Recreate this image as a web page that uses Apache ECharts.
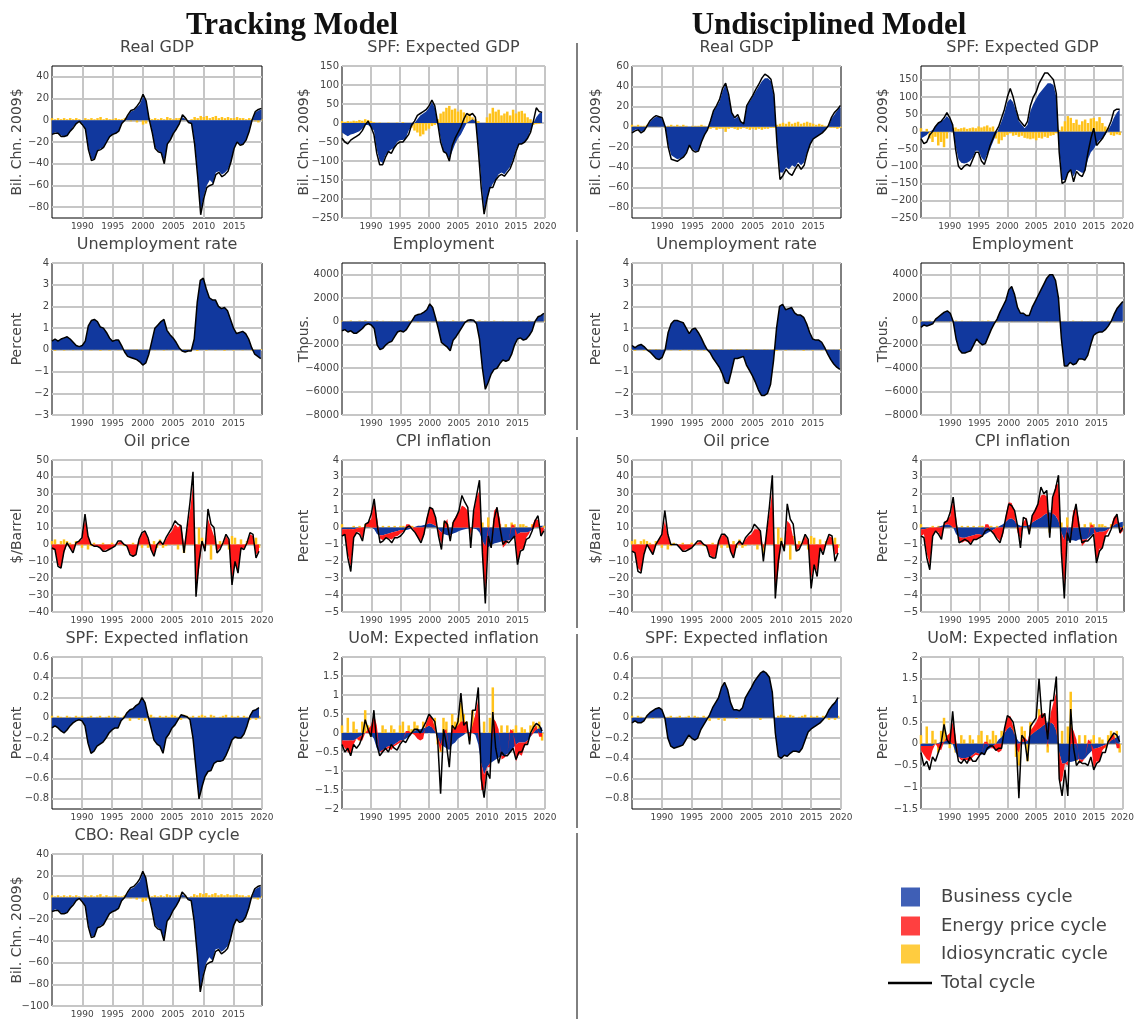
<!DOCTYPE html>
<html><head><meta charset="utf-8">
<script src="https://cdn.jsdelivr.net/npm/echarts@6/dist/echarts.min.js"></script>
<style>html,body{margin:0;padding:0;background:#fff}#c{width:1137px;height:1019px}</style>
</head><body><div id="c"></div><script>
// time index: semi-annual, 1985.0 .. 2019.5
const T = [1985,1985.5,1986,1986.5,1987,1987.5,1988,1988.5,1989,1989.5,
1990,1990.5,1991,1991.5,1992,1992.5,1993,1993.5,1994,1994.5,
1995,1995.5,1996,1996.5,1997,1997.5,1998,1998.5,1999,1999.5,
2000,2000.5,2001,2001.5,2002,2002.5,2003,2003.5,2004,2004.5,
2005,2005.5,2006,2006.5,2007,2007.5,2008,2008.5,2009,2009.5,
2010,2010.5,2011,2011.5,2012,2012.5,2013,2013.5,2014,2014.5,
2015,2015.5,2016,2016.5,2017,2017.5,2018,2018.5,2019,2019.5];

// ---- Tracking model: Real GDP (also CBO) ----
const gdpT_biz = [-13,-11,-12,-14,-15,-14,-10,-6,-3,-1,
-3,-8,-25,-36,-36,-28,-26,-25,-20,-15,
-13,-12,-10,-3,0,4,8,9,12,15,
22,18,2,-10,-25,-28,-30,-38,-22,-18,
-12,-8,-3,3,1,-2,-3,-20,-50,-85,
-70,-60,-55,-58,-48,-47,-50,-48,-45,-38,
-26,-20,-22,-22,-18,-10,0,7,9,10];
const gdpT_idio = [2,1,2,1,2,1,2,1,2,1,
-1,2,1,2,1,2,3,1,2,1,
1,2,1,1,2,1,-1,2,-2,1,
-4,-3,2,1,2,1,2,1,3,2,
1,2,2,1,2,-1,1,3,2,4,
3,4,2,3,4,2,3,2,3,2,
2,3,2,2,1,2,1,-1,-2,1];
const gdpT_tot = [-13,-12,-12,-15,-15,-14,-10,-7,-3,-1,
-4,-8,-27,-37,-36,-28,-27,-25,-20,-15,
-13,-12,-10,-3,0,5,9,10,13,17,
24,18,1,-11,-26,-29,-30,-40,-22,-18,
-12,-8,-3,5,2,-2,-3,-22,-52,-87,
-72,-62,-60,-59,-50,-48,-52,-50,-47,-38,
-26,-20,-23,-22,-18,-10,1,8,10,11];

// ---- Tracking: SPF expected GDP ----
const spfT_biz = [-25,-30,-35,-30,-28,-25,-22,-15,-5,-5,
-12,-20,-70,-100,-105,-85,-75,-70,-65,-50,
-45,-45,-40,-20,-10,0,10,20,25,30,
40,55,40,0,-40,-75,-80,-95,-75,-55,
-40,-30,-15,0,5,10,5,-60,-150,-230,
-200,-175,-160,-150,-135,-130,-135,-125,-115,-95,
-70,-55,-55,-50,-40,-20,0,15,25,28];
const spfT_idio = [5,3,5,4,6,5,8,6,10,8,
5,2,0,1,0,-2,1,0,-2,1,
-3,2,-5,-8,-12,-20,-25,-35,-30,-20,
-15,-8,-5,10,25,30,40,45,35,38,
30,35,28,20,25,15,10,5,0,0,
15,25,40,30,35,20,25,30,20,35,
25,30,32,25,15,10,-5,-3,-2,0];
const spfT_tot = [-40,-50,-55,-45,-40,-35,-30,-20,-5,5,
-10,-30,-80,-110,-110,-90,-75,-80,-65,-55,
-50,-50,-40,-30,-5,5,20,25,30,35,
45,60,45,0,-50,-75,-80,-100,-60,-40,
-25,-10,10,25,20,25,15,-70,-170,-240,
-200,-170,-170,-150,-140,-135,-140,-130,-120,-100,
-75,-55,-55,-50,-40,-25,5,40,30,28];

// ---- Undisciplined: Real GDP ----
const gdpU_biz = [-5,-3,-3,-5,-4,0,5,8,10,10,
8,0,-18,-28,-30,-32,-31,-30,-25,-18,
-22,-24,-24,-15,-8,-3,5,15,20,25,
35,42,30,15,8,10,5,3,20,25,
30,35,40,45,48,48,45,30,-15,-45,
-45,-40,-42,-38,-40,-35,-38,-35,-25,-18,
-12,-10,-8,-6,-3,0,8,12,16,20];
const gdpU_idio = [2,1,2,1,1,2,1,1,1,0,
1,-1,1,2,1,2,1,2,1,0,
1,1,1,2,1,-1,-2,-1,-3,-2,
-2,-5,-2,-1,-2,-3,-2,-1,-2,-3,
-2,-3,-2,-3,-2,-2,-1,-1,2,3,
4,3,5,3,4,5,3,4,5,4,
3,2,3,2,1,1,-1,-1,-2,-1];
const gdpU_tot = [-6,-4,-3,-6,-4,1,6,9,11,10,
9,0,-20,-32,-33,-34,-32,-30,-26,-18,
-23,-25,-24,-15,-8,-3,6,16,21,27,
38,43,32,14,9,12,5,3,21,26,
31,37,42,48,52,50,47,32,-17,-52,
-48,-42,-46,-48,-42,-37,-42,-38,-26,-17,
-12,-10,-8,-6,-3,1,9,14,17,21];

// ---- Undisciplined: SPF expected GDP ----
const spfU_biz = [-20,-15,-10,0,5,15,25,30,35,45,
35,20,-40,-80,-90,-92,-90,-85,-75,-55,
-55,-75,-85,-65,-50,-30,-10,10,30,55,
85,95,85,60,30,20,10,20,60,80,
95,110,120,130,140,140,135,100,-50,-140,
-140,-120,-110,-130,-110,-115,-120,-115,-80,-60,
-50,-35,-25,-20,-10,5,20,40,55,65];
const spfU_idio = [10,-10,8,-20,-30,-15,-40,-30,-45,-20,
5,10,12,8,10,12,8,10,12,10,
15,12,15,18,12,15,-20,-35,-25,-15,
-10,-5,-12,-10,-15,-12,-18,-20,-22,-20,
-25,-18,-20,-15,-18,-12,-10,-5,5,15,
30,45,40,25,35,20,30,35,25,38,
40,30,42,25,15,10,-10,-12,-8,-10];
const spfU_tot = [-20,-35,-30,-10,0,15,25,30,40,55,
40,20,-50,-100,-110,-100,-95,-100,-80,-60,
-60,-85,-95,-70,-40,-20,0,15,40,65,
100,125,100,65,35,25,15,30,75,100,
115,140,155,170,170,160,150,110,-60,-150,
-145,-120,-110,-145,-115,-125,-130,-110,-60,-20,
10,-40,-30,-20,-5,10,30,60,65,65];

// ---- Unemployment rate ----
const unT_biz = [0.4,0.5,0.4,0.5,0.55,0.6,0.5,0.35,0.2,0.15,
0.2,0.4,1.1,1.35,1.4,1.3,1.05,1.0,0.8,0.55,
0.4,0.45,0.45,0.2,-0.1,-0.3,-0.35,-0.4,-0.45,-0.55,
-0.7,-0.6,-0.2,0.4,1.0,1.15,1.3,1.4,0.9,0.7,
0.55,0.35,0.1,-0.05,-0.1,-0.05,-0.05,0.5,2.2,3.2,
3.3,2.8,2.4,2.3,2.3,2.0,1.9,1.95,1.8,1.4,
1.0,0.75,0.8,0.85,0.75,0.5,0.1,-0.2,-0.3,-0.4];
const unU_biz = [0.2,0.1,0.2,0.25,0.15,0.0,-0.1,-0.25,-0.4,-0.45,
-0.35,0.0,0.8,1.2,1.35,1.35,1.3,1.25,1.0,0.75,
0.95,1.0,0.8,0.55,0.25,0.0,-0.15,-0.4,-0.6,-0.8,
-1.1,-1.5,-1.55,-1.0,-0.4,-0.4,-0.35,-0.3,-0.7,-0.95,
-1.2,-1.5,-1.85,-2.1,-2.1,-2.0,-1.6,-0.5,1.0,2.0,
2.1,1.85,1.9,1.95,1.7,1.6,1.6,1.5,1.2,0.8,
0.5,0.45,0.45,0.35,0.1,-0.2,-0.45,-0.65,-0.8,-0.9];
const unIdio = [0.03,-0.04,0.02,0.04,-0.03,0.02,0.03,-0.02,0.04,0.02,
-0.03,0.02,0.04,-0.02,0.03,0.02,-0.04,0.03,0.02,-0.03,
0.02,0.03,-0.02,0.04,-0.03,0.02,-0.04,0.02,0.03,-0.02,
0.03,-0.03,0.02,0.04,-0.02,0.03,0.02,-0.03,0.04,0.02,
-0.02,0.03,0.02,-0.04,0.03,0.02,-0.03,0.04,-0.05,0.03,
0.02,-0.03,0.04,0.02,-0.02,0.03,0.02,-0.04,0.03,0.02,
-0.03,0.02,0.03,-0.02,0.04,0.02,-0.03,0.02,-0.02,0.03];

// ---- Employment ----
const empT_biz = [-800,-700,-900,-800,-1000,-1000,-800,-600,-300,-200,
-300,-600,-2000,-2400,-2300,-2000,-1800,-1700,-1300,-900,
-800,-900,-700,-300,100,500,600,650,800,1000,
1500,1200,300,-700,-1800,-2000,-2200,-2500,-1600,-1300,
-900,-500,-100,100,150,100,-200,-1500,-4000,-5800,
-5200,-4500,-4100,-4000,-3600,-3300,-3400,-3300,-2800,-2000,
-1500,-1400,-1600,-1500,-1200,-800,0,400,500,700];
const empU_biz = [-500,-300,-400,-300,-200,200,400,600,800,900,
700,0,-1500,-2400,-2700,-2700,-2600,-2500,-2000,-1500,
-1800,-2000,-1900,-1300,-700,-200,200,800,1300,1800,
2700,3000,2300,1200,700,700,500,500,1200,1700,
2200,2700,3200,3700,4000,4000,3500,2000,-1500,-3800,
-3800,-3500,-3700,-3600,-3200,-3200,-3300,-2900,-2000,-1200,
-1000,-900,-900,-700,-400,0,600,1100,1400,1700];
const empIdio = [60,-40,50,80,-30,40,70,-50,90,40,
-60,50,80,-40,60,30,-70,50,40,-60,
40,60,-40,80,-50,40,-80,60,50,-40,
60,-50,40,70,-40,60,30,-50,80,40,
-40,60,30,-70,50,40,-60,80,-90,60,
40,-60,70,40,-40,60,30,-70,50,40,
-50,40,60,-40,70,40,-60,40,-40,60];

// ---- Oil price ----
const oilT_nrg = [-3,-3,-12,-14,-5,0,-2,-4,0,2,
3,15,5,0,-1,-1,-2,-4,-3,-3,
-2,-1,1,2,0,-1,-5,-7,-6,2,
6,8,3,-3,-6,0,2,0,3,6,
8,12,10,12,0,8,20,35,-28,-15,
0,-3,15,10,5,-4,-2,0,5,2,
-20,-12,-15,-3,-2,0,6,5,-6,-4];
const oilT_tot = [-2,-3,-13,-14,-4,1,-2,-5,1,2,
4,18,5,0,-1,-1,-2,-4,-4,-3,
-2,-1,2,2,0,-1,-6,-7,-6,3,
7,8,4,-3,-7,0,2,0,4,7,
10,14,12,11,-5,10,25,43,-31,-10,
2,-4,21,12,10,-5,-3,1,6,3,
-24,-10,-17,-2,-3,1,7,6,-8,-4];
const oilIdio = [2,3,-2,2,3,2,1,-1,2,1,
-2,3,-3,-1,1,0,-1,1,0,-1,
1,0,1,0,-1,0,-1,1,0,1,
-2,1,-2,-1,2,-2,3,-2,-1,2,
3,2,-3,2,-5,3,5,8,-5,10,
4,-2,8,-9,5,-3,2,1,4,-3,
5,4,-4,3,-2,2,3,2,4,-2];
const oilU_nrg = [-4,-5,-14,-16,-6,0,-3,-6,0,3,
5,14,5,0,0,0,-2,-4,-3,-3,
-2,0,1,2,0,-1,-6,-8,-7,2,
5,6,3,-4,-7,0,2,0,3,5,
6,9,9,8,-3,6,18,32,-28,-15,
0,-3,14,12,4,-4,-2,0,5,2,
-20,-12,-16,-3,-4,0,5,4,-6,-5];
const oilU_tot = [-4,-5,-16,-17,-6,0,-3,-6,0,3,
6,20,6,0,0,0,-2,-4,-4,-3,
-2,0,2,2,0,-1,-7,-8,-8,2,
6,6,4,-4,-8,0,2,0,4,6,
8,12,10,8,-10,6,22,41,-32,-10,
2,-4,24,15,12,-4,-3,1,6,3,
-26,-12,-19,-2,-6,1,6,5,-10,-5];

// ---- CPI inflation ----
const cpiT_biz = [-0.1,-0.1,-0.1,-0.1,-0.1,-0.05,0,0,0.05,0.05,
0,-0.1,-0.4,-0.45,-0.45,-0.4,-0.35,-0.3,-0.25,-0.2,
-0.15,-0.15,-0.15,-0.1,0,0.05,0.1,0.1,0.15,0.2,
0.25,0.2,0.1,-0.1,-0.3,-0.4,-0.45,-0.45,-0.35,-0.3,
-0.2,-0.15,-0.1,-0.05,-0.05,-0.05,-0.1,-0.3,-0.8,-1.1,
-1.15,-1.05,-0.95,-0.9,-0.85,-0.8,-0.8,-0.75,-0.7,-0.6,
-0.4,-0.3,-0.3,-0.3,-0.25,-0.15,0,0.05,0.1,0.1];
const cpiT_nrg = [-0.4,-0.3,-1.5,-2.2,-0.5,-0.2,-0.3,-0.7,0.1,0.3,
0.5,1.6,0.6,-0.2,-0.3,-0.2,-0.3,-0.4,-0.3,-0.3,
-0.2,-0.1,0.2,0.2,0,-0.3,-0.6,-0.8,-0.5,0.4,
1.0,0.9,0.5,-0.3,-0.7,0.2,0.5,-0.2,0.4,0.7,
0.9,1.3,1.2,1.0,-0.5,0.8,1.8,2.2,-1.0,-3.0,
0.2,-0.1,1.0,1.2,0.5,-0.4,-0.2,0,0.2,0.1,
-1.8,-1.0,-1.0,-0.3,-0.1,0.1,0.5,0.4,-0.4,-0.2];
const cpiT_idio = [0.2,-0.1,-0.2,-0.3,0.1,-0.1,0.1,-0.1,0.2,0.1,
0.3,0.3,0.1,-0.2,0.1,-0.1,0.1,-0.1,0.1,-0.1,
0.1,0.1,-0.1,0.1,0.1,-0.1,0.1,-0.1,0.1,0.1,
0.2,0.1,0.1,-0.1,-0.2,0.3,0.2,-0.2,0.3,0.1,
0.3,0.4,0.3,0.2,-0.3,0.3,0.3,0.5,0.3,-0.6,
0.6,-0.2,0.4,0.8,0.2,-0.2,0.2,-0.1,0.3,0.2,
-0.2,0.2,0.2,0.1,-0.1,0.2,0.2,0.3,-0.1,0.1];
const cpiT_tot = [-0.5,-0.4,-1.8,-2.6,-0.6,-0.3,-0.4,-0.8,0.2,0.3,
0.8,1.7,0.2,-0.9,-0.8,-0.6,-0.7,-0.9,-0.6,-0.6,
-0.5,-0.3,0,0.1,-0.1,-0.3,-0.6,-0.9,-0.4,0.5,
1.2,1.1,0.6,-0.5,-1.3,0.4,0.2,-0.8,0.3,0.6,
1.0,1.9,1.5,1.2,-1.2,1.0,1.9,2.8,-1.5,-4.5,
-0.5,-1.2,0.5,1.2,0,-1.0,-0.8,-0.9,-0.7,-0.5,
-2.2,-1.4,-1.3,-0.7,-0.6,-0.2,0.4,0.7,-0.5,-0.2];
const cpiU_biz = [-0.1,-0.1,-0.05,0,0,0,0.05,0.1,0.15,0.2,
0.15,0,-0.4,-0.55,-0.6,-0.6,-0.55,-0.5,-0.45,-0.4,
-0.4,-0.45,-0.4,-0.3,-0.2,-0.1,0,0.1,0.2,0.35,
0.5,0.55,0.4,0.2,0.1,0.1,0.1,0.15,0.3,0.4,
0.5,0.6,0.75,0.85,0.9,0.85,0.7,0.4,-0.3,-0.75,
-0.8,-0.75,-0.75,-0.8,-0.7,-0.7,-0.7,-0.65,-0.5,-0.35,
-0.3,-0.25,-0.25,-0.2,-0.1,0,0.15,0.25,0.3,0.35];
const cpiU_tot = [-0.5,-0.6,-1.8,-2.5,-0.5,-0.2,-0.4,-0.7,0.3,0.4,
0.9,1.8,0.3,-0.9,-0.8,-0.7,-0.8,-1.0,-0.7,-0.7,
-0.6,-0.5,-0.2,-0.1,-0.2,-0.4,-0.7,-0.9,-0.3,0.6,
1.4,1.3,1.0,0.1,-1.2,0.6,0.5,-0.4,0.7,1.0,
1.4,2.4,2.0,2.2,-0.6,1.8,2.3,3.1,-1.5,-4.2,
-0.3,-0.9,0.6,1.4,0.1,-0.9,-0.8,-0.8,-0.6,-0.4,
-2.1,-1.4,-1.2,-0.5,-0.5,-0.1,0.5,0.8,-0.3,0];

// ---- SPF expected inflation ----
const spfiT_biz = [-0.1,-0.08,-0.1,-0.13,-0.15,-0.12,-0.08,-0.05,-0.03,-0.02,
-0.03,-0.08,-0.25,-0.35,-0.33,-0.28,-0.26,-0.24,-0.2,-0.15,
-0.12,-0.1,-0.1,-0.03,0,0.05,0.08,0.09,0.12,0.14,
0.2,0.15,0.02,-0.1,-0.22,-0.26,-0.28,-0.35,-0.2,-0.16,
-0.1,-0.07,-0.02,0.03,0.02,0.01,-0.02,-0.2,-0.5,-0.8,
-0.68,-0.58,-0.53,-0.52,-0.45,-0.43,-0.43,-0.42,-0.37,-0.3,
-0.22,-0.19,-0.2,-0.2,-0.16,-0.08,0.02,0.07,0.08,0.1];
const spfiU_biz = [-0.05,-0.03,-0.05,-0.05,-0.03,0.02,0.05,0.07,0.09,0.1,
0.08,0,-0.2,-0.28,-0.3,-0.29,-0.28,-0.27,-0.22,-0.17,
-0.2,-0.22,-0.2,-0.12,-0.07,-0.02,0.03,0.1,0.15,0.2,
0.3,0.35,0.28,0.15,0.08,0.08,0.07,0.1,0.2,0.25,
0.3,0.36,0.4,0.44,0.46,0.44,0.4,0.25,-0.15,-0.38,
-0.4,-0.37,-0.38,-0.35,-0.33,-0.33,-0.34,-0.3,-0.22,-0.14,
-0.11,-0.09,-0.07,-0.05,-0.02,0.02,0.08,0.12,0.15,0.2];
const spfiIdio = [0.02,-0.01,0.02,0.01,-0.02,0.02,0.01,-0.01,0.02,0.01,
0.02,-0.01,0.01,0.02,-0.01,0.01,0.02,-0.02,0.01,0.02,
-0.01,0.02,0.01,-0.02,0.02,0.01,-0.03,0.02,0.01,-0.02,
0.01,-0.03,0.02,0.03,0.01,-0.01,0.02,0.01,0.02,0.01,
0.03,0.02,0.01,-0.02,0.03,0.02,0.01,0.02,-0.02,0.02,
0.03,0.02,-0.01,0.03,0.02,-0.02,0.01,0.02,0.03,-0.01,
0.02,0.01,0.02,-0.01,0.02,0.01,-0.02,0.01,-0.02,0.02];

// ---- UoM expected inflation ----
const uomT_biz = [-0.2,-0.2,-0.2,-0.2,-0.2,-0.15,-0.1,-0.05,0,0,
-0.05,-0.15,-0.4,-0.5,-0.45,-0.4,-0.35,-0.35,-0.3,-0.25,
-0.2,-0.2,-0.15,-0.1,0,0.05,0.1,0.1,0.12,0.15,
0.2,0.15,0.05,-0.1,-0.3,-0.35,-0.4,-0.45,-0.3,-0.25,
-0.15,-0.1,-0.05,0.02,0.02,0,-0.05,-0.3,-0.8,-1.1,
-0.9,-0.8,-0.75,-0.7,-0.65,-0.6,-0.6,-0.55,-0.5,-0.4,
-0.3,-0.25,-0.25,-0.25,-0.2,-0.1,0,0.1,0.12,0.15];
const uomT_nrg = [-0.1,-0.2,-0.3,-0.35,-0.1,0,-0.1,-0.15,0,0.1,
0.2,0.5,0.2,0,-0.05,-0.05,-0.05,-0.1,-0.05,-0.05,
-0.05,0,0.05,0.05,0,-0.05,-0.15,-0.2,-0.15,0.1,
0.25,0.25,0.1,-0.1,-0.2,0.05,0.1,0,0.1,0.15,
0.2,0.3,0.3,0.25,-0.1,0.2,0.5,0.9,-0.7,-0.4,
0,-0.1,0.4,0.3,0.1,-0.1,-0.05,0,0.1,0.05,
-0.45,-0.3,-0.35,-0.1,-0.05,0,0.1,0.1,-0.1,-0.1];
const uomT_idio = [0.2,-0.1,0.4,-0.2,0.3,0.1,-0.2,0.3,0.6,0.2,
-0.1,0.3,-0.2,-0.3,0.2,0.1,-0.1,0.2,0.1,-0.2,
0.2,0.3,-0.1,0.2,0.1,0.3,0.2,-0.1,0.3,0.2,
0.4,0.3,0.4,-0.3,-0.5,0.4,0.3,-0.4,0.5,0.3,
0.4,0.8,0.5,0.3,-0.2,0.6,0.4,0.4,-0.4,0.3,
-0.3,0.4,1.2,0.2,-0.4,0.2,-0.3,0.2,-0.2,0.1,
0.2,-0.2,0.15,0.1,-0.1,0.2,0.3,0.2,0.3,-0.2];
const uomT_tot = [-0.3,-0.5,-0.4,-0.6,-0.3,-0.4,-0.3,-0.1,0.35,0.1,
-0.1,0.6,-0.3,-0.6,-0.5,-0.4,-0.5,-0.3,-0.4,-0.45,
-0.3,-0.2,-0.25,-0.1,0,0.1,0.1,0,0.15,0.3,
0.5,0.4,0.3,-0.2,-1.6,0.1,-0.3,-0.9,0.2,0.1,
0.3,1.05,0.2,0.3,-0.3,0.6,0.6,1.2,-1.2,-1.7,
-1.0,-1.2,0.55,-0.4,-0.8,-0.5,-0.6,-0.6,-0.5,-0.4,
-0.7,-0.5,-0.5,-0.3,-0.3,0,0.15,0.25,0.2,0.05];
const uomU_biz = [-0.05,-0.05,-0.05,-0.05,-0.05,0,0.02,0.05,0.05,0.08,
0.05,0,-0.2,-0.3,-0.33,-0.33,-0.32,-0.3,-0.25,-0.2,
-0.22,-0.25,-0.22,-0.15,-0.1,-0.05,0,0.1,0.15,0.25,
0.35,0.4,0.3,0.15,0.05,0.05,0.05,0.07,0.2,0.25,
0.3,0.35,0.4,0.45,0.5,0.5,0.45,0.3,-0.2,-0.45,
-0.45,-0.4,-0.42,-0.4,-0.38,-0.35,-0.37,-0.33,-0.25,-0.18,
-0.12,-0.1,-0.08,-0.05,-0.02,0,0.08,0.12,0.15,0.2];
const uomU_tot = [-0.2,-0.5,-0.4,-0.6,-0.3,-0.4,-0.2,0,0.45,0.1,
0,0.75,0,-0.4,-0.45,-0.35,-0.45,-0.3,-0.4,-0.4,
-0.3,-0.2,-0.25,-0.1,-0.05,-0.05,-0.15,-0.1,-0.1,0.35,
0.65,0.6,0.5,0.15,-1.25,0.2,0.1,-0.4,0.4,0.5,
0.6,1.5,0.6,0.7,0.1,1.0,1.0,1.55,-0.8,-1.2,
-0.6,-1.2,0.8,-0.1,-0.5,-0.4,-0.45,-0.45,-0.5,-0.3,
-0.6,-0.45,-0.4,-0.2,-0.2,0.05,0.15,0.25,0.2,0.05];

// tick label lists
const X6 = [1990,1995,2000,2005,2010,2015];
const X7 = [1990,1995,2000,2005,2010,2015,2020];
const Y_GDPT = [-80,-60,-40,-20,0,20,40];
const Y_GDPU = [-80,-60,-40,-20,0,20,40,60];
const Y_SPF = [-250,-200,-150,-100,-50,0,50,100,150];
const Y_UN = [-3,-2,-1,0,1,2,3,4];
const Y_EMP = [-8000,-6000,-4000,-2000,0,2000,4000];
const Y_OIL = [-40,-30,-20,-10,0,10,20,30,40,50];
const Y_CPI = [-5,-4,-3,-2,-1,0,1,2,3,4];
const Y_SPFI = [-0.8,-0.6,-0.4,-0.2,0,0.2,0.4,0.6];
const Y_UOMT = [-2,-1.5,-1,-0.5,0,0.5,1,1.5,2];
const Y_UOMU = [-1.5,-1,-0.5,0,0.5,1,1.5,2];
const Y_CBO = [-100,-80,-60,-40,-20,0,20,40];

const GDPN = 'Bil. Chn. 2009$';
const panels = [
 {t:'Real GDP',c:0,r:0,y:[-90,50],yt:Y_GDPT,xt:X6,xm:2019.6,n:GDPN,b:gdpT_biz,e:null,i:gdpT_idio,s:gdpT_tot},
 {t:'SPF: Expected GDP',c:1,r:0,y:[-250,150],yt:Y_SPF,xt:X7,xm:2020,n:GDPN,b:spfT_biz,e:null,i:spfT_idio,s:spfT_tot},
 {t:'Real GDP',c:2,r:0,y:[-90,60],yt:Y_GDPU,xt:X6,xm:2019.6,n:GDPN,b:gdpU_biz,e:null,i:gdpU_idio,s:gdpU_tot},
 {t:'SPF: Expected GDP',c:3,r:0,y:[-250,190],yt:Y_SPF,xt:X7,xm:2020,n:GDPN,b:spfU_biz,e:null,i:spfU_idio,s:spfU_tot},
 {t:'Unemployment rate',c:0,r:1,y:[-3,4],yt:Y_UN,xt:X6,xm:2019.7,n:'Percent',b:unT_biz,e:null,i:unIdio,s:unT_biz},
 {t:'Employment',c:1,r:1,y:[-8000,5000],yt:Y_EMP,xt:X6,xm:2019.7,n:'Thous.',b:empT_biz,e:null,i:empIdio,s:empT_biz},
 {t:'Unemployment rate',c:2,r:1,y:[-3,4],yt:Y_UN,xt:X6,xm:2019.7,n:'Percent',b:unU_biz,e:null,i:unIdio,s:unU_biz},
 {t:'Employment',c:3,r:1,y:[-8000,5000],yt:Y_EMP,xt:X6,xm:2019.7,n:'Thous.',b:empU_biz,e:null,i:empIdio,s:empU_biz},
 {t:'Oil price',c:0,r:2,y:[-40,50],yt:Y_OIL,xt:X7,xm:2020,n:'$/Barrel',b:null,e:oilT_nrg,i:oilIdio,s:oilT_tot},
 {t:'CPI inflation',c:1,r:2,y:[-5,4],yt:Y_CPI,xt:X6,xm:2019.7,n:'Percent',b:cpiT_biz,e:cpiT_nrg,i:cpiT_idio,s:cpiT_tot},
 {t:'Oil price',c:2,r:2,y:[-40,50],yt:Y_OIL,xt:X7,xm:2020,n:'$/Barrel',b:null,e:oilU_nrg,i:oilIdio,s:oilU_tot},
 {t:'CPI inflation',c:3,r:2,y:[-5,4],yt:Y_CPI,xt:X6,xm:2019.7,n:'Percent',b:cpiU_biz,e:cpiT_nrg,i:cpiT_idio,s:cpiU_tot},
 {t:'SPF: Expected inflation',c:0,r:3,y:[-0.9,0.6],yt:Y_SPFI,xt:X7,xm:2020,n:'Percent',b:spfiT_biz,e:null,i:spfiIdio,s:spfiT_biz},
 {t:'UoM: Expected inflation',c:1,r:3,y:[-2,2],yt:Y_UOMT,xt:X7,xm:2020,n:'Percent',b:uomT_biz,e:uomT_nrg,i:uomT_idio,s:uomT_tot},
 {t:'SPF: Expected inflation',c:2,r:3,y:[-0.9,0.6],yt:Y_SPFI,xt:X7,xm:2020,n:'Percent',b:spfiU_biz,e:null,i:spfiIdio,s:spfiU_biz},
 {t:'UoM: Expected inflation',c:3,r:3,y:[-1.5,2],yt:Y_UOMU,xt:X7,xm:2020,n:'Percent',b:uomU_biz,e:uomT_nrg,i:uomT_idio,s:uomU_tot},
 {t:'CBO: Real GDP cycle',c:0,r:4,y:[-100,40],yt:Y_CBO,xt:X6,xm:2019.7,n:GDPN,b:gdpT_biz,e:null,i:gdpT_idio,s:gdpT_tot}
];

const BLUE='#11389e', RED='#ff1a1a', YEL='#ffc21a';
const FONT='"DejaVu Sans", Verdana, sans-serif';
const COLX=[52,342,632,921], COLW=[210,203,209,203];
const ROWY=[66,263,460,657,854], ROWH=152;
const NAMEGAP=[28,31,29,31];
const fmt = v => (v<0?'\u2212':'') + Math.abs(v);
// value first, time second (so that stacking applies to the value dimension)
const pairs = arr => T.map((t,k)=>[arr[k],t]);
const ENC = {x:1, y:0};

const grid=[], xAxis=[], yAxis=[], series=[], graphic=[];
panels.forEach((p,k)=>{
  const L=COLX[p.c], W=COLW[p.c], Tp=ROWY[p.r];
  grid.push({left:L, top:Tp, width:W, height:ROWH, show:true, borderColor:'#000', borderWidth:1, backgroundColor:'transparent'});
  xAxis.push({type:'value', gridIndex:k, min:1985, max:p.xm,
    axisLine:{show:false}, axisTick:{show:false, customValues:p.xt},
    axisLabel:{customValues:p.xt, color:'#444', fontSize:9, fontFamily:FONT, margin:4, formatter:v=>String(v)},
    splitLine:{show:true, lineStyle:{color:'#c6c6c6', width:2}}});
  yAxis.push({type:'value', gridIndex:k, min:p.y[0], max:p.y[1],
    name:p.n, nameLocation:'middle', nameGap:NAMEGAP[p.c], nameMoveOverlap:false,
    nameTextStyle:{color:'#444', fontSize:14, fontFamily:FONT},
    axisLine:{show:false}, axisTick:{show:false, customValues:p.yt},
    axisLabel:{customValues:p.yt, color:'#444', fontSize:10, fontFamily:FONT, margin:3, formatter:fmt},
    splitLine:{show:true, lineStyle:{color:'#c6c6c6', width:2}}});
  series.push({type:'bar', name:'Idiosyncratic cycle', xAxisIndex:k, yAxisIndex:k, data:pairs(p.i), encode:ENC, barWidth:2.5, itemStyle:{color:YEL}, z:1, silent:true});
  if(p.b) series.push({type:'line', name:'Business cycle', xAxisIndex:k, yAxisIndex:k, data:pairs(p.b), encode:ENC, stack:'st'+k, symbol:'none', lineStyle:{width:0,opacity:0}, areaStyle:{color:BLUE, opacity:1}, z:2, silent:true});
  if(p.e) series.push({type:'line', name:'Energy price cycle', xAxisIndex:k, yAxisIndex:k, data:pairs(p.e), encode:ENC, stack:'st'+k, symbol:'none', lineStyle:{width:0,opacity:0}, areaStyle:{color:RED, opacity:1}, z:2, silent:true});
  series.push({type:'line', name:'Total cycle', xAxisIndex:k, yAxisIndex:k, data:pairs(p.s), encode:ENC, symbol:'none', lineStyle:{color:'#000', width:1.5}, z:3, silent:true});
  graphic.push({type:'text', x:L+W/2, y:Tp-18, style:{text:p.t, textAlign:'center', textVerticalAlign:'middle', fontSize:16, fontFamily:FONT, fill:'#444'}});
});

// headings
graphic.push({type:'text', x:292, y:26, style:{text:'Tracking Model', textAlign:'center', textVerticalAlign:'middle', fontSize:31, fontWeight:'bold', fontFamily:'"Liberation Serif", "DejaVu Serif", serif', fill:'#111'}});
graphic.push({type:'text', x:829, y:26, style:{text:'Undisciplined Model', textAlign:'center', textVerticalAlign:'middle', fontSize:31, fontWeight:'bold', fontFamily:'"Liberation Serif", "DejaVu Serif", serif', fill:'#111'}});
// column separator
[[43,232],[240,430],[437,628],[634,828],[833,1019]].forEach(s=>{
  graphic.push({type:'line', shape:{x1:577,y1:s[0],x2:577,y2:s[1]}, style:{stroke:'#000', lineWidth:1}});
});
// legend
const LEG=[['Business cycle','#3f5fb6',897],['Energy price cycle','#ff4040',926],['Idiosyncratic cycle','#ffcc3f',954]];
LEG.forEach(l=>{
  graphic.push({type:'rect', shape:{x:901,y:l[2]-9.5,width:19,height:19}, style:{fill:l[1]}});
  graphic.push({type:'text', x:941, y:l[2], style:{text:l[0], textAlign:'left', textVerticalAlign:'middle', fontSize:18, fontFamily:FONT, fill:'#444'}});
});
graphic.push({type:'line', shape:{x1:888,y1:983,x2:932,y2:983}, style:{stroke:'#000', lineWidth:2.5}});
graphic.push({type:'text', x:941, y:983, style:{text:'Total cycle', textAlign:'left', textVerticalAlign:'middle', fontSize:18, fontFamily:FONT, fill:'#444'}});

const chart = echarts.init(document.getElementById('c'), null, {renderer:'canvas'});
chart.setOption({animation:false, backgroundColor:'#fff', grid, xAxis, yAxis, series, graphic});
</script></body></html>
